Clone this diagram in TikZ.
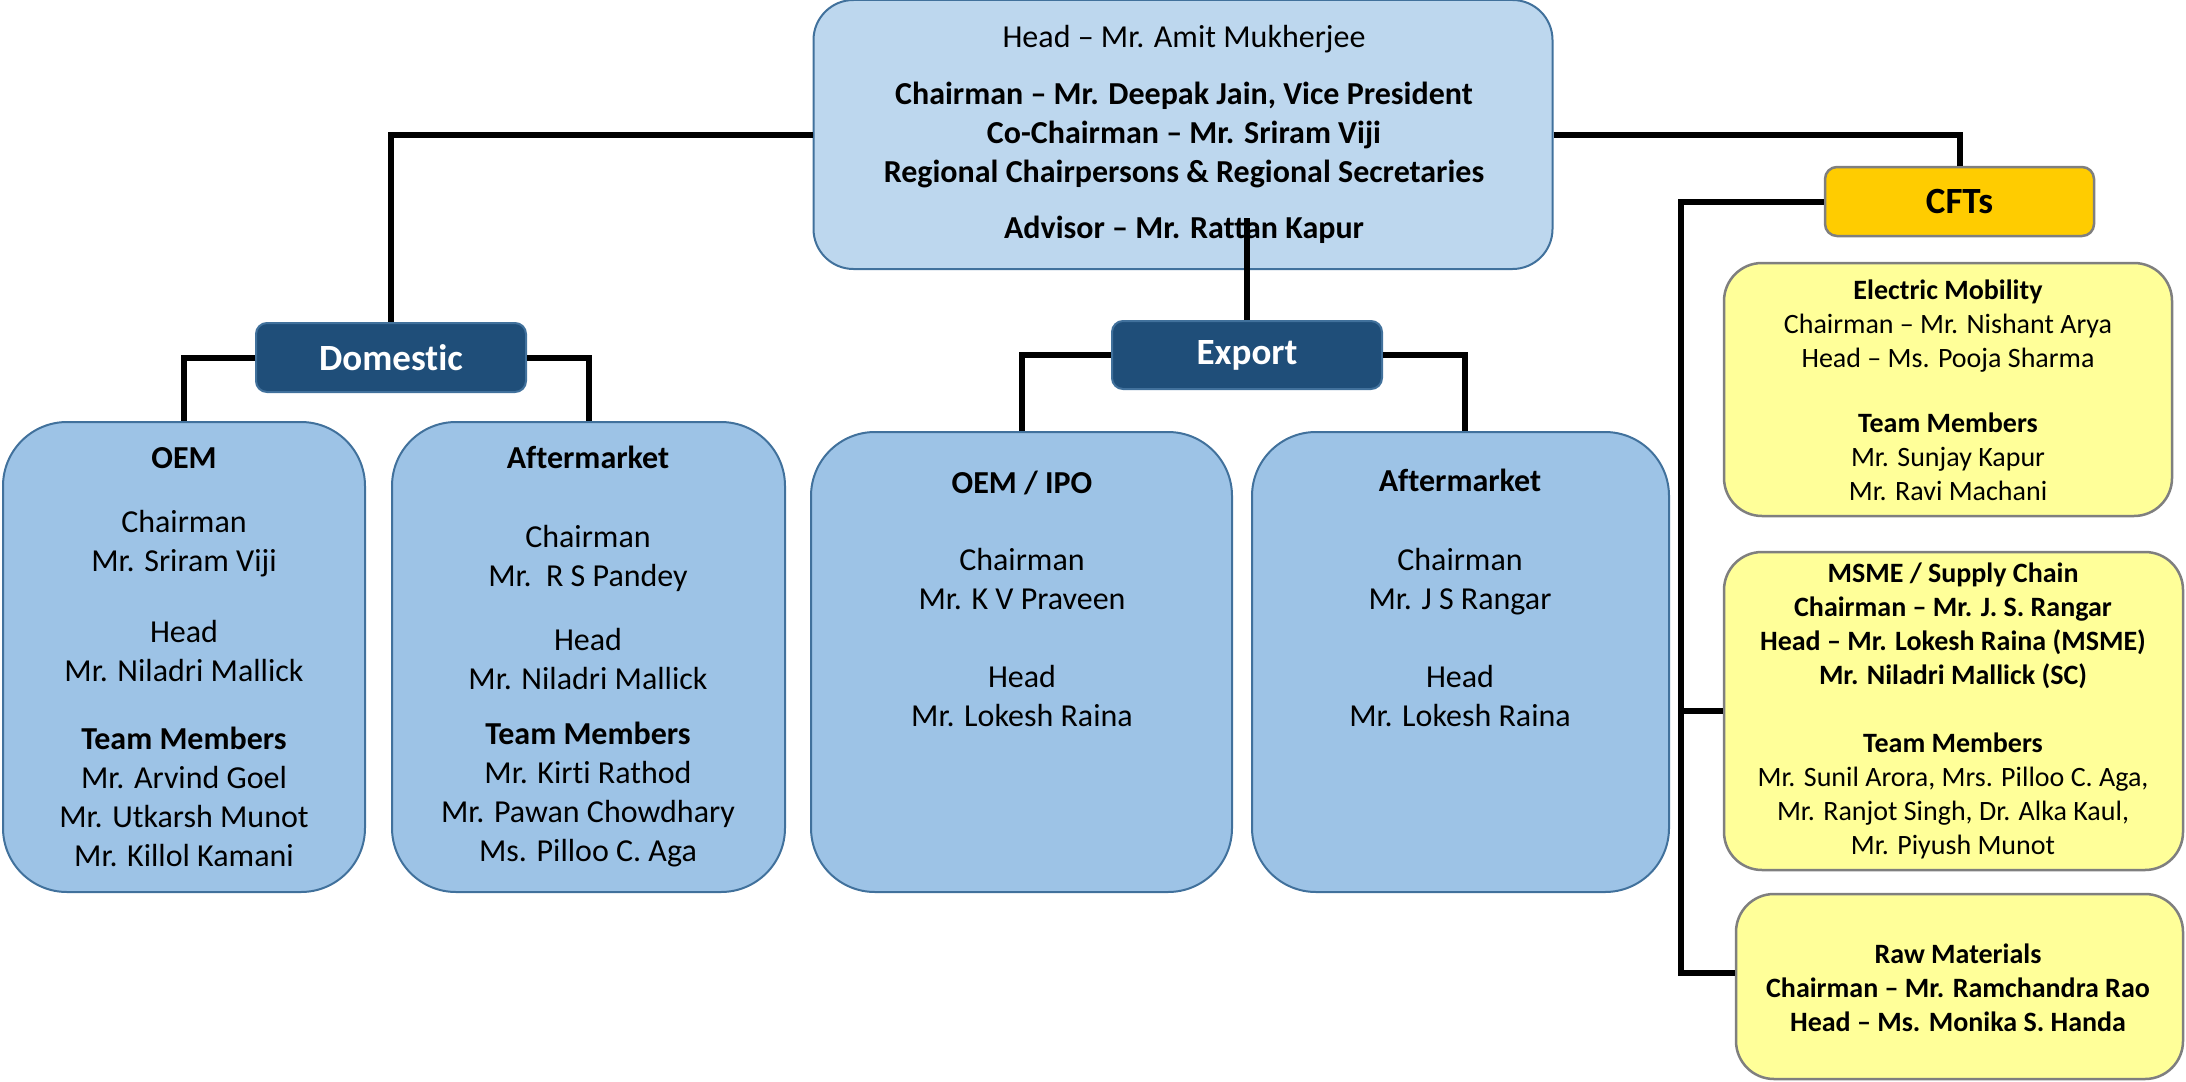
\documentclass[tikz,border=0pt]{standalone}
\usepackage{fontspec}
\setmainfont[Ligatures=NoCommon]{Carlito}
\definecolor{toplight}{RGB}{189,215,238}
\definecolor{unitblue}{RGB}{157,195,230}
\definecolor{boxline}{RGB}{65,113,156}
\definecolor{groupblue}{RGB}{31,78,121}
\definecolor{cftgold}{RGB}{255,204,0}
\definecolor{cftyellow}{RGB}{255,255,153}
\definecolor{cftgray}{RGB}{127,127,127}
\newcommand{\boxfont}{\fontsize{32}{39}\selectfont}
\newcommand{\cftfont}{\fontsize{28}{34}\selectfont}
\newcommand{\groupfont}{\fontsize{37}{44}\selectfont\bfseries}
\begin{document}
\begin{tikzpicture}[x=1pt, y=-1pt,
    conn/.style={line width=6pt},
    topbox/.style={draw=boxline, fill=toplight, line width=2pt, rounded corners=40pt},
    unitbox/.style={draw=boxline, fill=unitblue, line width=2pt, rounded corners=64pt},
    groupbox/.style={draw=boxline, fill=groupblue, line width=2pt, rounded corners=11pt,
        text=white, font=\groupfont},
    cftbox/.style={draw=cftgray, fill=cftgold, line width=2.5pt, rounded corners=12pt,
        font=\groupfont},
    teambox/.style={draw=cftgray, fill=cftyellow, line width=2.5pt, rounded corners=38pt},
    txt/.style={align=center, inner sep=0pt, font=\boxfont},
    cfttxt/.style={align=center, inner sep=0pt, font=\cftfont}]
    \useasboundingbox (0,0) rectangle (2186,1081);

    % boxes
    \node[topbox, minimum width=739pt, minimum height=269pt] (top) at (1183,134.5) {};
    \node[groupbox, minimum width=270pt, minimum height=69pt] (domestic) at (391,357.5) {Domestic};
    \node[groupbox, minimum width=270pt, minimum height=68pt] (export) at (1247,355) {Export};
    \node[cftbox, minimum width=269pt, minimum height=69pt] (cfts) at (1959.5,201.5) {CFTs};

    \node[unitbox, minimum width=362pt, minimum height=470pt] (oem) at (184,657) {};
    \node[unitbox, minimum width=393pt, minimum height=470pt] (domaft) at (588.5,657) {};
    \node[unitbox, minimum width=421pt, minimum height=460pt] (oemipo) at (1021.5,662) {};
    \node[unitbox, minimum width=417pt, minimum height=460pt] (expaft) at (1460.5,662) {};

    \node[teambox, minimum width=448pt, minimum height=253pt] (emob) at (1948,389.5) {};
    \node[teambox, minimum width=459pt, minimum height=318pt] (msme) at (1953.5,711) {};
    \node[teambox, minimum width=447pt, minimum height=185pt] (raw) at (1959.5,986.5) {};

    % texts
    \node[txt] (toptxt) at (1184,134.5) {Head -- Mr. Amit Mukherjee\\[18pt]
        \textbf{Chairman -- Mr. Deepak Jain, Vice President}\\
        \textbf{Co-Chairman -- Mr. Sriram Viji}\\
        \textbf{Regional Chairpersons \& Regional Secretaries}\\[17pt]
        \textbf{Advisor -- Mr. Rattan Kapur}};
    \node[txt] (oemtxt) at (184,657.5) {\textbf{OEM}\\[25pt]
        Chairman\\ Mr. Sriram Viji\\[32pt]
        Head\\ Mr. Niladri Mallick\\[29pt]
        \textbf{Team Members}\\ Mr. Arvind Goel\\ Mr. Utkarsh Munot\\ Mr. Killol Kamani};
    \node[txt] (domafttxt) at (588,657) {\textbf{Aftermarket}\\[40pt]
        Chairman\\ Mr.\ \ R S Pandey\\[25pt]
        Head\\ Mr. Niladri Mallick\\[16pt]
        \textbf{Team Members}\\ Mr. Kirti Rathod\\ Mr. Pawan Chowdhary\\ Ms. Pilloo C. Aga};
    \node[txt] (oemipotxt) at (1022,598.5) {\textbf{OEM / IPO}\\[38pt]
        Chairman\\ Mr. K V Praveen\\[39pt]
        Head\\ Mr. Lokesh Raina};
    \node[txt] (expafttxt) at (1460,597.5) {\textbf{Aftermarket}\\[40pt]
        Chairman\\ Mr. J S Rangar\\[39pt]
        Head\\ Mr. Lokesh Raina};

    \node[cfttxt] (emobtxt) at (1948,390.5) {\textbf{Electric Mobility}\\
        Chairman -- Mr. Nishant Arya\\ Head -- Ms. Pooja Sharma\\[31pt]
        \textbf{Team Members}\\ Mr. Sunjay Kapur\\ Mr. Ravi Machani};
    \node[cfttxt] (msmetxt) at (1953,711) {\textbf{MSME / Supply Chain}\\
        \textbf{Chairman -- Mr. J. S. Rangar}\\
        \textbf{Head -- Mr. Lokesh Raina (MSME)}\\
        \textbf{Mr. Niladri Mallick (SC)}\\[34pt]
        \textbf{Team Members}\\ Mr. Sunil Arora, Mrs. Pilloo C. Aga,\\
        Mr. Ranjot Singh, Dr. Alka Kaul,\\ Mr. Piyush Munot};
    \node[cfttxt] (rawtxt) at (1958,987.5) {\textbf{Raw Materials}\\
        \textbf{Chairman -- Mr. Ramchandra Rao}\\
        \textbf{Head -- Ms. Monika S. Handa}};

    % connectors
    \coordinate (stem) at (1247,218);
    \coordinate (cftbus) at (1681,973);
    \draw[conn] (top.west) -| (domestic.north);
    \draw[conn] (top.east) -| (cfts.north);
    \draw[conn] (export.north) -- (stem);
    \draw[conn] (domestic.west) -| (oem.north);
    \draw[conn] (domestic.east) -| (domaft.north);
    \draw[conn] (export.west) -| (oemipo.north);
    \draw[conn] (export.east) -| ([xshift=4pt]expaft.north);
    \draw[conn] (cfts.west) -| (cftbus) -- (cftbus -| raw.west);
    \draw[conn] (cftbus |- msme.west) -- (msme.west);
\end{tikzpicture}
\end{document}
